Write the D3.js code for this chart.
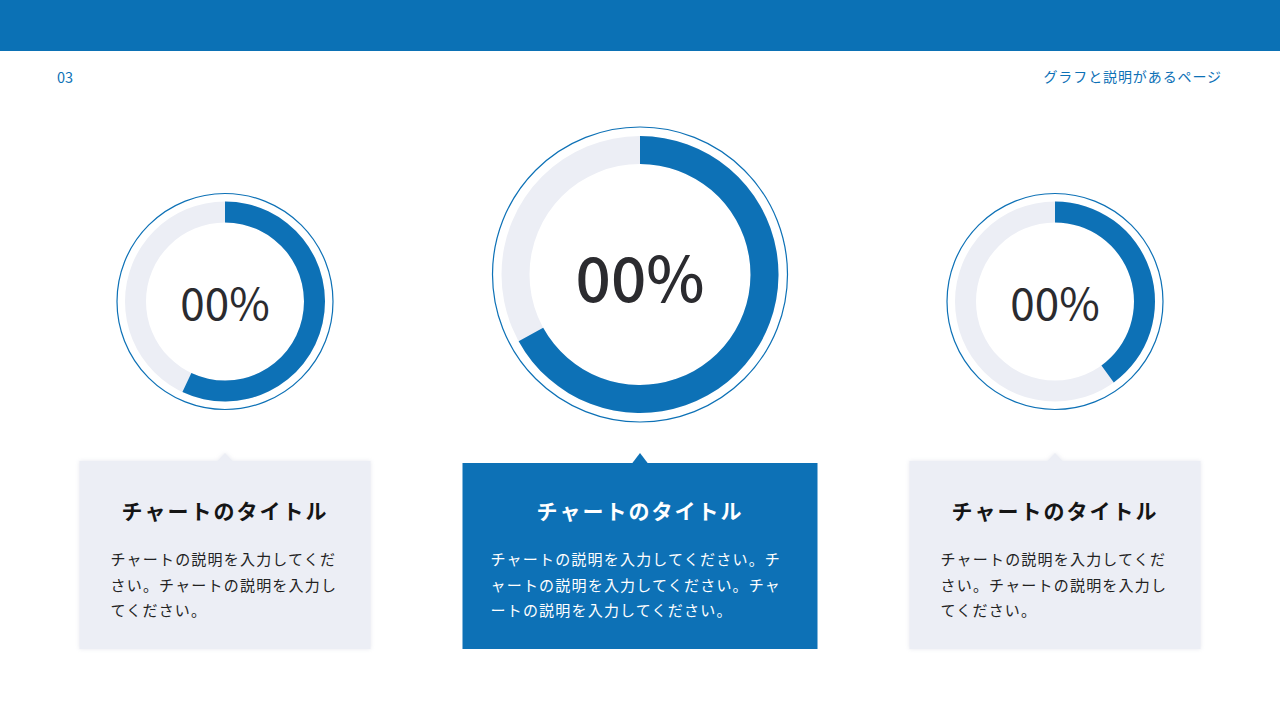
<!DOCTYPE html>
<html>
<head>
<meta charset="utf-8">
<script src="https://cdn.jsdelivr.net/npm/d3@7"></script>
<style>
  html, body { margin: 0; padding: 0; background: #ffffff; }
  svg { display: block; font-family: "Noto Sans CJK JP", "Noto Sans", sans-serif; }
</style>
</head>
<body>
<svg id="chart" width="1280" height="720"></svg>
<script>
// chart values
var percentLabels = ["00%", "00%", "00%"];
var percentValues = [57, 67, 40];
var chartTitles = ["チャートのタイトル", "チャートのタイトル", "チャートのタイトル"];
var chartDescriptions = [
    "チャートの説明を入力してください。チャートの説明を入力してください。",
    "チャートの説明を入力してください。チャートの説明を入力してください。チャートの説明を入力してください。",
    "チャートの説明を入力してください。チャートの説明を入力してください。"
];
var highlighted = [false, true, false];
var pageNumber = "03";
var pageTitle = "グラフと説明があるページ";

var blue = "#0d71b6";
var track = "#eceef5";

var svg = d3.select("#chart");

function drawHeader() {
    svg.append("rect")
        .attr("x", 0).attr("y", 0)
        .attr("width", 1280).attr("height", 51)
        .attr("fill", "#0b71b5");
    svg.append("text")
        .attr("x", 57).attr("y", 83)
        .attr("font-size", 14.5)
        .attr("fill", blue)
        .text(pageNumber);
    svg.append("text")
        .attr("x", 1222).attr("y", 82)
        .attr("text-anchor", "end")
        .attr("font-size", 14)
        .attr("letter-spacing", 0.9)
        .attr("fill", blue)
        .text(pageTitle);
}

var defs = svg.append("defs");
var shadow = defs.append("filter").attr("id", "soft")
    .attr("x", "-10%").attr("y", "-10%").attr("width", "120%").attr("height", "120%");
shadow.append("feDropShadow")
    .attr("dx", 0).attr("dy", 0).attr("stdDeviation", 2)
    .attr("flood-color", "#c8ccd8").attr("flood-opacity", 0.45);

var xScale = d3.scalePoint()
    .domain(d3.range(percentValues.length))
    .range([225, 1055]);
var angle = d3.scaleLinear().domain([0, 100]).range([0, 2 * Math.PI]);

function wrapText(textSel, str, width) {
    // break per character so the lines fill the card width
    var lines = [], line = "";
    var probe = textSel.append("tspan");
    for (var i = 0; i < str.length; i++) {
        var ch = str[i];
        probe.text(line + ch);
        if (probe.node().getComputedTextLength() > width && line.length > 0 && ch !== "。" && ch !== "、") {
            lines.push(line);
            line = ch;
        } else {
            line += ch;
        }
    }
    if (line) lines.push(line);
    probe.remove();
    return lines;
}

function drawDonuts() {
    var g = svg.selectAll("g.donut")
        .data(percentValues)
        .enter().append("g")
        .attr("class", "donut")
        .attr("transform", function(d, i) {
            return "translate(" + xScale(i) + "," + (highlighted[i] ? 274.5 : 301.5) + ")";
        });

    g.append("circle")
        .attr("r", function(d, i) { return highlighted[i] ? 147.5 : 108; })
        .attr("fill", "#ffffff")
        .attr("stroke", blue)
        .attr("stroke-width", 1.2);

    g.append("path")
        .attr("fill", track)
        .attr("d", function(d, i) {
            var big = highlighted[i];
            return d3.arc()
                .innerRadius(big ? 110.5 : 79)
                .outerRadius(big ? 138.5 : 100)
                .startAngle(0).endAngle(2 * Math.PI)();
        });

    g.append("path")
        .attr("fill", blue)
        .attr("d", function(d, i) {
            var big = highlighted[i];
            return d3.arc()
                .innerRadius(big ? 110.5 : 79)
                .outerRadius(big ? 138.5 : 100)
                .startAngle(0).endAngle(angle(d))();
        });

    g.append("text")
        .attr("text-anchor", "middle")
        .attr("y", function(d, i) { return highlighted[i] ? 27 : 18.5; })
        .attr("font-size", function(d, i) { return highlighted[i] ? 62 : 44; })
        .attr("font-weight", function(d, i) { return highlighted[i] ? 500 : 400; })
        .attr("fill", "#2b2b2f")
        .text(function(d, i) { return percentLabels[i]; });
}

function drawCards() {
    var cards = svg.selectAll("g.card")
        .data(chartTitles)
        .enter().append("g")
        .attr("class", "card")
        .attr("transform", function(d, i) { return "translate(" + xScale(i) + ",0)"; });

    cards.each(function(d, i) {
        var card = d3.select(this);
        var big = highlighted[i];
        var w = big ? 355 : 291;
        var top = big ? 463 : 461;
        var fill = big ? blue : track;
        var box = card.append("g").attr("filter", big ? null : "url(#soft)");
        box.append("rect")
            .attr("x", -w / 2).attr("y", top)
            .attr("width", w).attr("height", 649 - top)
            .attr("fill", fill);
        box.append("path")
            .attr("d", "M-8," + (top + 0.5) + "L0,453L8," + (top + 0.5) + "Z")
            .attr("fill", fill);

        card.append("text")
            .attr("text-anchor", "middle")
            .attr("y", 519)
            .attr("font-size", 21)
            .attr("font-weight", 700)
            .attr("letter-spacing", 2)
            .attr("fill", big ? "#ffffff" : "#151515")
            .text(d);

        var left = -w / 2 + (big ? 28 : 31);
        var body = card.append("text")
            .attr("font-size", 15)
            .attr("letter-spacing", 1.2)
            .attr("fill", big ? "#ffffff" : "#222222");
        var lines = wrapText(body, chartDescriptions[i], big ? 298 : 232);
        body.selectAll("tspan")
            .data(lines)
            .enter().append("tspan")
            .attr("x", left)
            .attr("y", function(l, k) { return 565 + k * 25.5; })
            .text(function(l) { return l; });
    });
}

drawHeader();
drawDonuts();
drawCards();
</script>
</body>
</html>
